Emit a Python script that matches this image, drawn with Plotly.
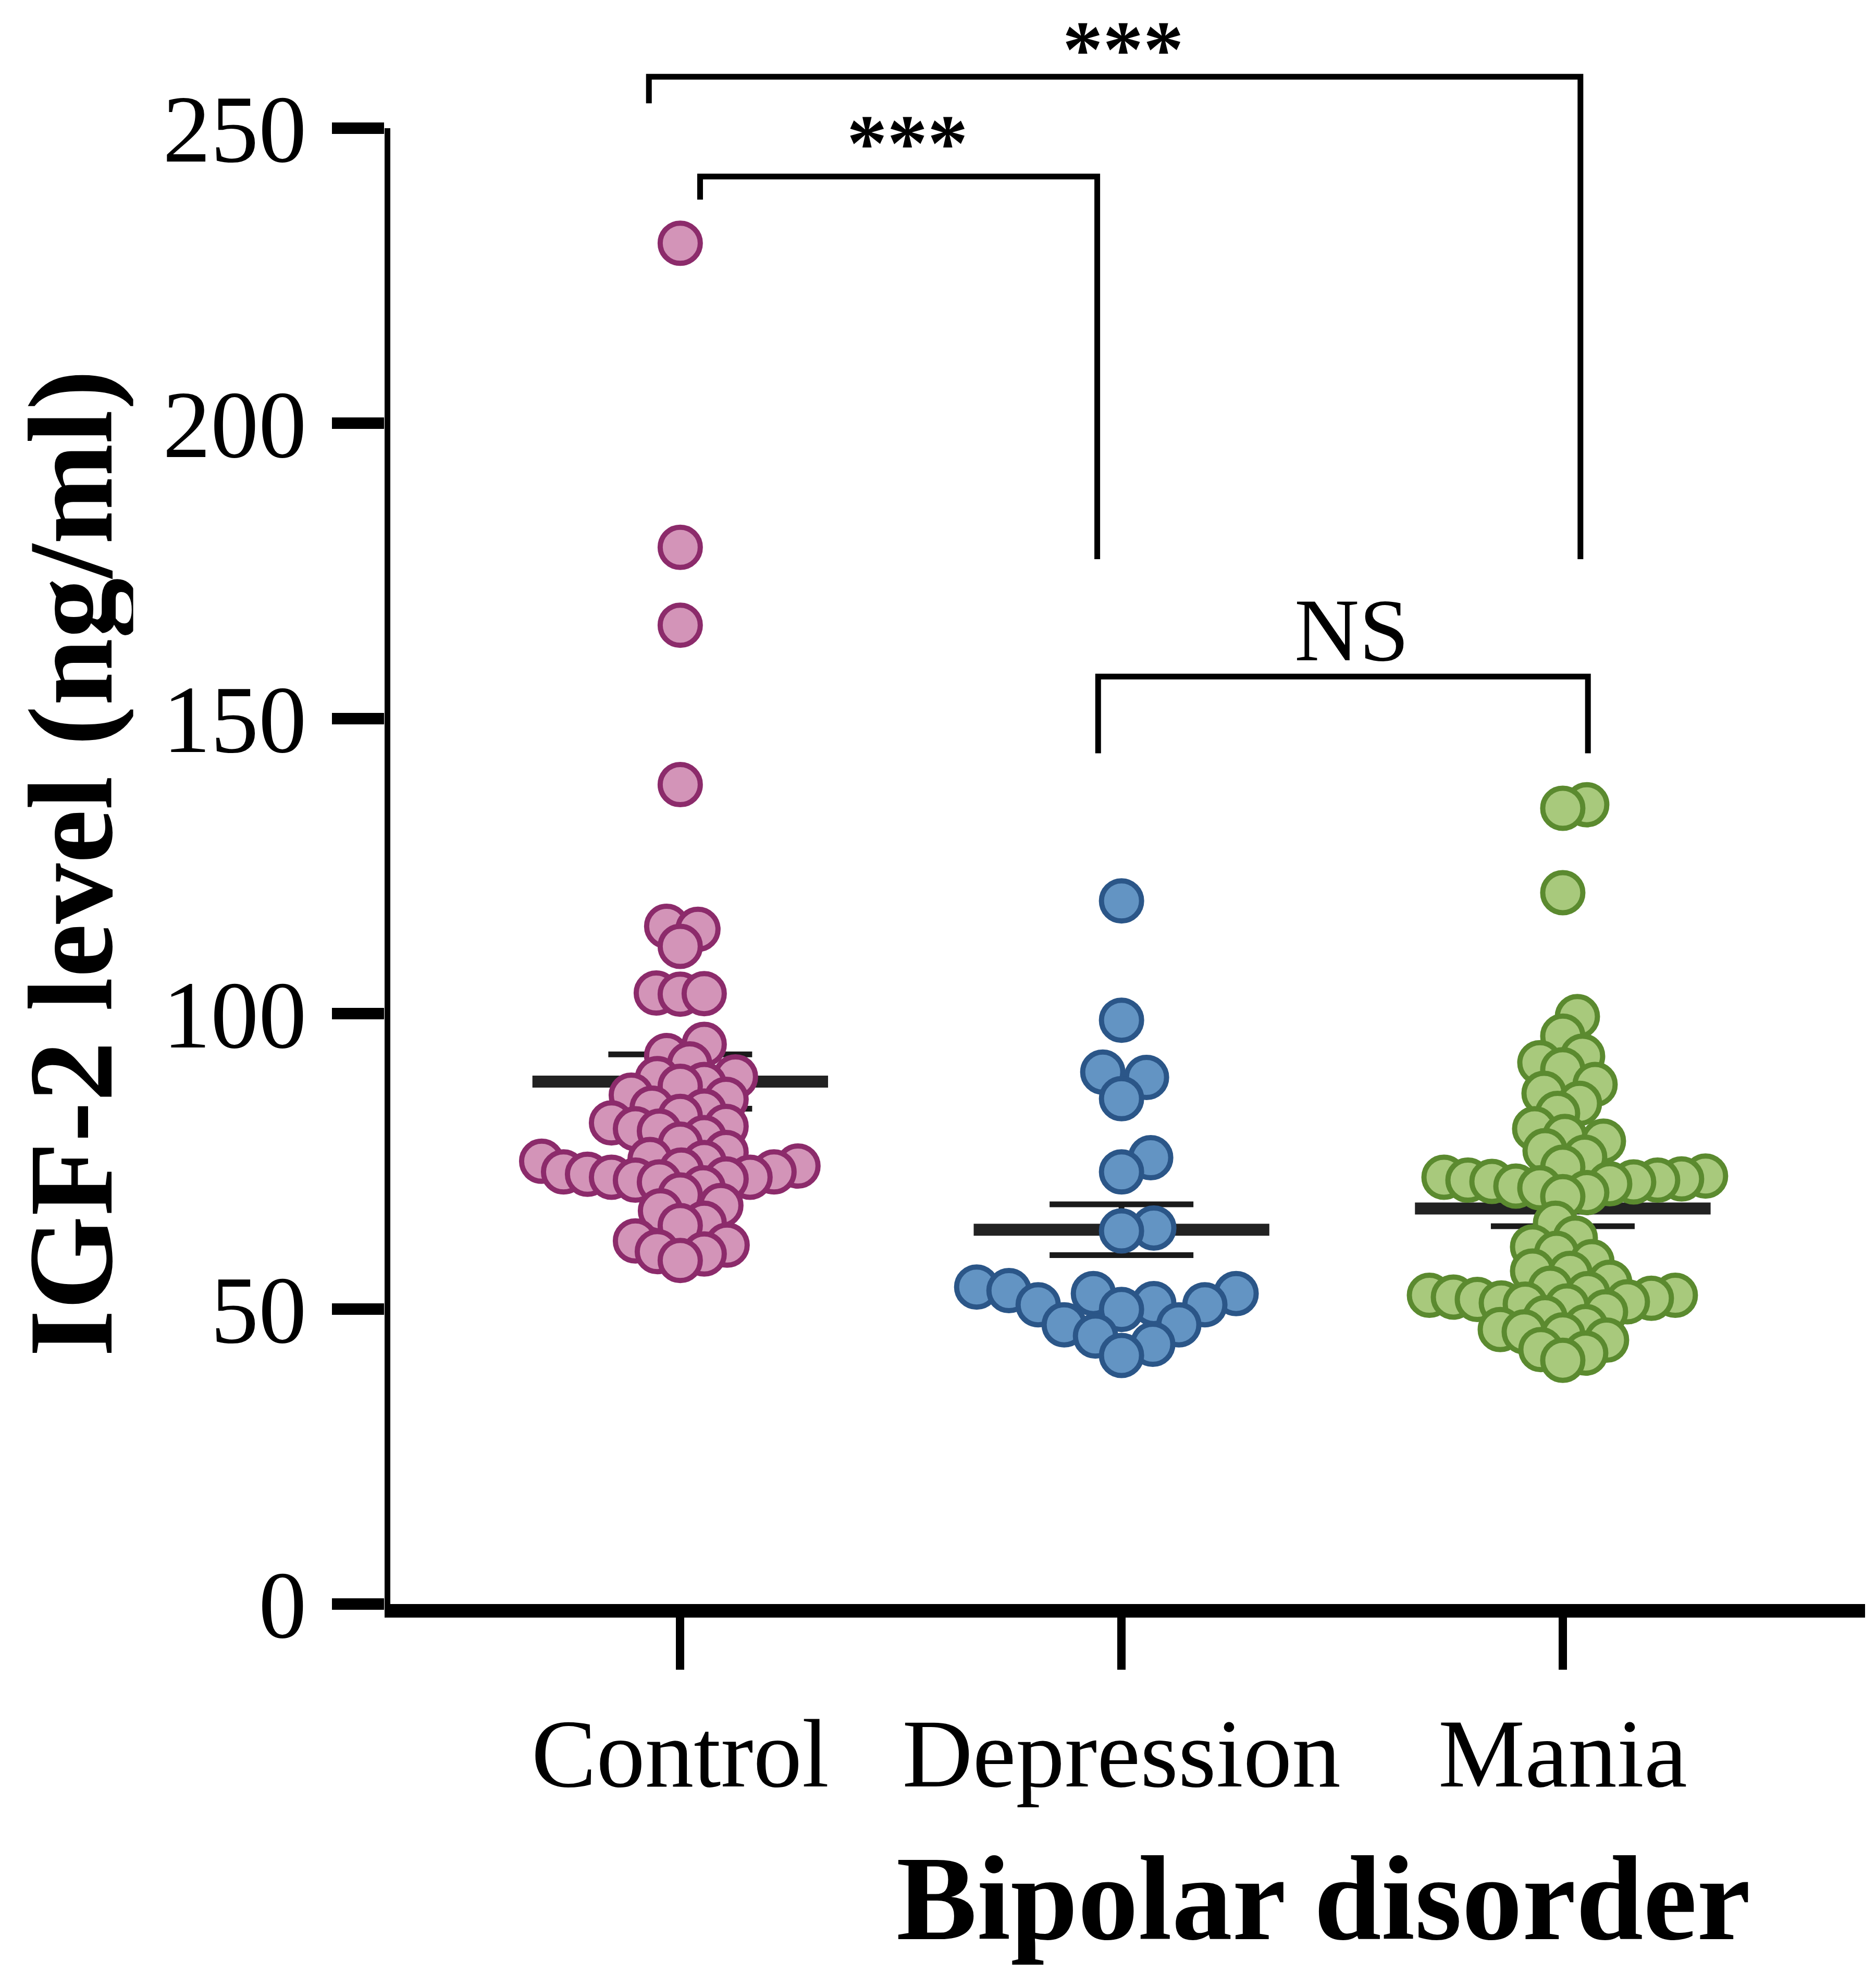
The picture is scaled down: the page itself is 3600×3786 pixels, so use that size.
import plotly.graph_objects as go

groups = ["Control", "Depression", "Mania"]

control = [230.5, 179.0, 165.8, 138.8, 114.8, 114.3, 111.4, 103.5, 103.3, 103.4,
           94.8, 92.9, 91.5, 89.3, 89.0, 88.0, 87.7, 86.2, 85.5, 84.0,
           83.5, 82.6, 81.5, 80.9, 80.5, 80.1, 79.0, 77.9, 76.5, 75.3,
           75.0, 74.8, 74.2, 73.5, 73.2, 73.2, 72.8, 72.3, 72.3, 72.0,
           71.8, 71.5, 70.5, 69.3, 67.5, 66.6, 64.5, 64.1, 61.5, 60.8,
           59.7, 59.3, 58.2]
depression = [119.1, 98.9, 90.1, 89.2, 85.6, 75.6, 73.2, 63.7, 63.2,
              53.7, 53.1, 52.6, 52.6, 50.9, 50.7, 50.7, 49.9, 47.3, 47.3,
              45.4, 44.0, 42.1]
mania = [135.4, 134.8, 120.5, 99.5, 96.2, 92.8, 91.7, 90.5, 88.0, 86.5,
         84.8, 83.1, 80.5, 79.2, 78.4, 76.8, 75.7, 74.0, 72.5, 72.3,
         72.0, 71.8, 71.8, 71.6, 71.5, 71.2, 70.8, 70.5, 69.7, 69.0,
         64.5, 62.0, 60.5, 59.4, 58.0, 56.4, 56.0, 54.5, 53.5, 52.6,
         52.3, 52.3, 52.0, 51.8, 51.6, 51.2, 51.0, 50.8, 50.5, 49.5,
         48.5, 47.0, 46.5, 46.1, 45.6, 44.7, 43.1, 42.5, 41.3]

means = [88.5, 63.4, 67.0]
sems = [4.6, 4.3, 3.0]

# comparisons: left group, right group, bar height, left leg end, right leg end, label
comparisons = [
    ("Control", "Mania", 258.7, 254.2, 177.0, "***"),
    ("Control", "Depression", 241.8, 237.9, 177.0, "***"),
    ("Depression", "Mania", 157.1, 144.1, 144.1, "NS"),
]

yticks = [0, 50, 100, 150, 200, 250]

fill = ["#d394b8", "#6394c3", "#a8c97c"]
edge = ["#8c2b6b", "#2b5688", "#5b8a2f"]
spread = [46, 62, 46]  # min centre distance (px) in the swarm for each group

# pixel scale of the plot area, used for the beeswarm layout
PX_X = 847.0
PX_Y = 11.33
W, H = 3600, 3786
X0, X1 = -0.67, 2.685
Y0, Y1 = 0, 268


def swarm(vals, dmin=46, step=2.0):
    order = sorted(range(len(vals)), key=lambda i: vals[i])
    placed = []
    offs = [0.0] * len(vals)
    for i in order:
        y = vals[i] * PX_Y
        k = 0
        while True:
            cands = [0.0] if k == 0 else [k * step, -k * step]
            hit = None
            for x in cands:
                if all((x - px) ** 2 + (y - py) ** 2 >= dmin ** 2 for px, py in placed):
                    hit = x
                    break
            if hit is not None:
                break
            k += 1
        placed.append((hit, y))
        offs[i] = hit / PX_X
    return offs


fig = go.Figure()

# mean and SEM
for i, g in enumerate(groups):
    fig.add_trace(go.Scatter(
        x=[i], y=[means[i]], mode="markers",
        marker=dict(size=1, color="rgba(0,0,0,0)"),
        error_y=dict(type="data", array=[sems[i]], color="#1a1a1a",
                     thickness=11, width=138),
        showlegend=False, hoverinfo="skip"))
    fig.add_trace(go.Scatter(
        x=[i - 0.335, i + 0.335], y=[means[i], means[i]], mode="lines",
        line=dict(color="#222222", width=23), showlegend=False, hoverinfo="skip"))

for i, (g, vals) in enumerate(zip(groups, [control, depression, mania])):
    offs = swarm(vals, dmin=spread[i])
    fig.add_trace(go.Scatter(
        x=[i + o for o in offs], y=vals, mode="markers", name=g,
        marker=dict(size=77, color=fill[i], line=dict(color=edge[i], width=10)),
        showlegend=False))

# significance brackets
for a, b, yb, la, lb, lab in comparisons:
    xa = groups.index(a)
    xb = groups.index(b)
    outer = xa == 0 and xb == 2
    if lab == "NS":
        xa, xb = xa - 0.053, xb + 0.057
    elif outer:
        xa, xb = xa - 0.071, xb + 0.04
    else:
        xa, xb = xa + 0.045, xb - 0.055
    fig.add_trace(go.Scatter(
        x=[xa, xa, xb, xb], y=[la, yb, yb, lb], mode="lines",
        line=dict(color="black", width=11), showlegend=False, hoverinfo="skip"))
    if lab == "NS":
        fig.add_annotation(
            x=(xa + xb) / 2 + 0.02, y=yb, yref="y", xref="x",
            text=lab, showarrow=False, yanchor="bottom", yshift=-8,
            font=dict(family="Liberation Serif", size=172, color="black"))
    else:
        fig.add_annotation(
            x=(xa + xb) / 2 + 0.02, y=yb, yref="y", xref="x",
            text="<b>" + lab + "</b>", showarrow=False,
            yanchor="bottom", valign="top", height=120,
            yshift=(16 if outer else 28),
            font=dict(family="Liberation Serif", size=155, color="black"))

# y axis spine only up to 250
fig.add_shape(type="line", xref="x", yref="y", x0=X0, x1=X0, y0=0, y1=250,
              line=dict(color="black", width=22))

fig.add_annotation(text="<b>IGF-2 level (ng/ml)</b>", textangle=-90,
                   xref="paper", yref="paper", x=-0.212, y=0.468,
                   xanchor="center", yanchor="middle", showarrow=False,
                   height=240, valign="middle",
                   font=dict(family="Liberation Serif", size=232, color="black"))
fig.add_annotation(text="<b>Bipolar disorder</b>",
                   xref="paper", yref="paper", x=0.634, y=-0.186,
                   xanchor="center", yanchor="middle", showarrow=False,
                   font=dict(family="Liberation Serif", size=232, color="black"))

fig.update_layout(
    width=W, height=H,
    margin=dict(l=730, r=29, t=34, b=716),
    plot_bgcolor="white", paper_bgcolor="white",
    font=dict(family="Liberation Serif", color="black"),
    xaxis=dict(range=[X0, X1], tickvals=[0, 1, 2], ticktext=groups,
               showgrid=False, zeroline=False, showline=True,
               linecolor="black", linewidth=26,
               ticks="outside", ticklen=100, tickwidth=16, tickcolor="black",
               tickfont=dict(size=187, family="Liberation Serif")),
    yaxis=dict(range=[Y0, Y1], tickvals=yticks, showgrid=False, zeroline=False,
               showline=False, ticks="outside", ticklen=100, tickwidth=22,
               tickcolor="black", ticklabelstandoff=12,
               tickfont=dict(size=184, family="Liberation Serif")),
)

fig.write_html("out.html")
